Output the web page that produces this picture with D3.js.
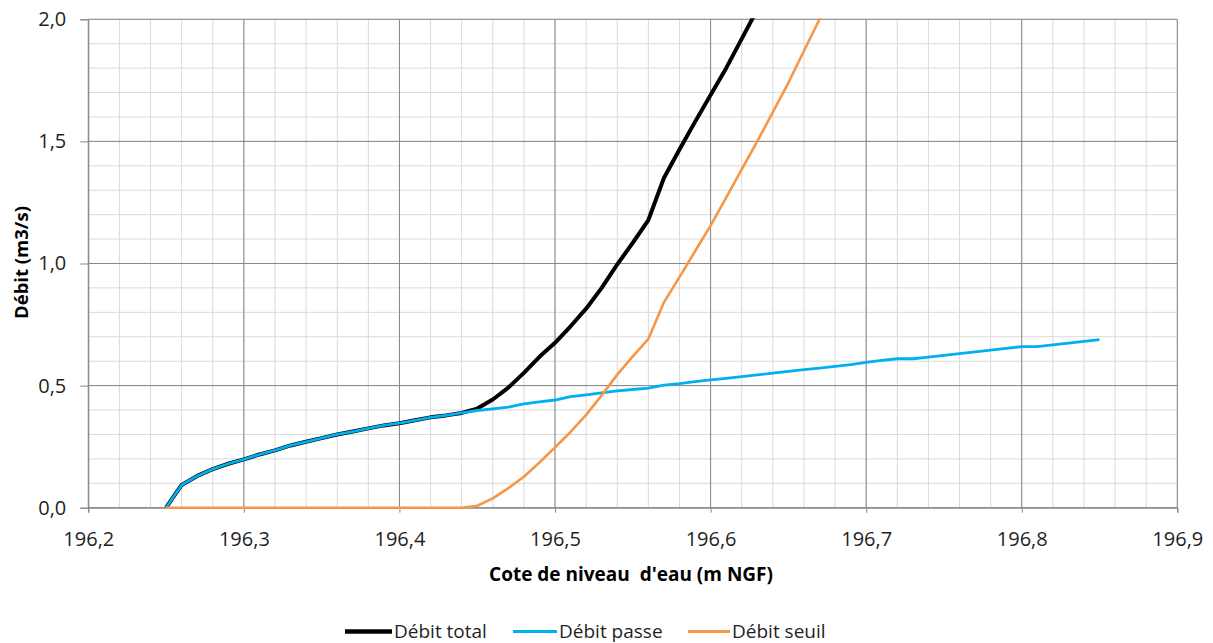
<!DOCTYPE html>
<html><head><meta charset="utf-8">
<script src="https://cdn.jsdelivr.net/npm/d3@7"></script>
<style>body{margin:0;background:#fff;} text{font-family:"Open Sans","Noto Sans",sans-serif;}</style>
</head><body><svg id="c" width="1213" height="643"></svg>
<script>
const cote = [196.25,196.26,196.27,196.28,196.29,196.30,196.31,196.32,196.33,196.34,196.35,196.36,196.37,196.38,196.39,196.40,196.41,196.42,196.43,196.44,196.45,196.46,196.47,196.48,196.49,196.50,196.51,196.52,196.53,196.54,196.55,196.56,196.57,196.58,196.59,196.60,196.61,196.62,196.63,196.64,196.65,196.66,196.67,196.68,196.69,196.70,196.71,196.72,196.73,196.74,196.75,196.76,196.77,196.78,196.79,196.80,196.81,196.82,196.83,196.84,196.85];
const debitPasse = [0,0.093,0.13,0.158,0.18,0.198,0.218,0.235,0.255,0.27,0.285,0.30,0.312,0.325,0.337,0.346,0.358,0.37,0.378,0.388,0.398,0.405,0.412,0.425,0.433,0.441,0.455,0.462,0.47,0.478,0.484,0.49,0.502,0.508,0.516,0.523,0.53,0.537,0.544,0.551,0.558,0.565,0.572,0.579,0.586,0.595,0.603,0.61,0.61,0.617,0.624,0.631,0.638,0.645,0.652,0.66,0.66,0.667,0.674,0.681,0.688];
const debitSeuil = [0,0,0,0,0,0,0,0,0,0,0,0,0,0,0,0,0,0,0,0,0.008,0.038,0.08,0.127,0.185,0.247,0.31,0.38,0.46,0.545,0.62,0.691,0.841,0.944,1.05,1.155,1.27,1.385,1.50,1.62,1.74,1.87,2.00,2.13];
const debitTotal = [0,0.093,0.13,0.158,0.18,0.198,0.218,0.235,0.255,0.27,0.285,0.30,0.312,0.325,0.337,0.346,0.358,0.37,0.378,0.388,0.406,0.443,0.492,0.552,0.618,0.675,0.743,0.815,0.90,0.996,1.085,1.178,1.35,1.467,1.58,1.69,1.80,1.92,2.04,2.17];
const xTicks = [196.2,196.3,196.4,196.5,196.6,196.7,196.8,196.9];
const yTicks = [0,0.5,1.0,1.5,2.0];
const seriesNames = ["Débit total","Débit passe","Débit seuil"];
const seriesColors = ["#000000","#00B0F0","#F79646"];

const svg = d3.select("#c");
const L=88.3,R=1177.3,T=19.3,B=507.7;
const x = d3.scaleLinear().domain([196.2,196.9]).range([L,R]);
const y = d3.scaleLinear().domain([0,2]).range([B,T]);
const fmt = d => d3.format(".1f")(d).replace(".",",");

const g = svg.append("g");
const xMinor = d3.range(196.2,196.9001,0.02).map(v=>+v.toFixed(2));
const yMinor = d3.range(0,2.0001,0.1).map(v=>+v.toFixed(1));
g.selectAll(".xm").data(xMinor).enter().append("line")
 .attr("x1",d=>x(d)).attr("x2",d=>x(d)).attr("y1",T).attr("y2",B)
 .attr("stroke","#d9d9d9").attr("stroke-width",1);
g.selectAll(".ym").data(yMinor).enter().append("line")
 .attr("x1",L).attr("x2",R).attr("y1",d=>y(d)).attr("y2",d=>y(d))
 .attr("stroke","#d9d9d9").attr("stroke-width",1);
g.selectAll(".xM").data(xTicks).enter().append("line")
 .attr("x1",d=>x(d)).attr("x2",d=>x(d)).attr("y1",T).attr("y2",B)
 .attr("stroke","#878787").attr("stroke-width",1);
g.selectAll(".yM").data(yTicks).enter().append("line")
 .attr("x1",L).attr("x2",R).attr("y1",d=>y(d)).attr("y2",d=>y(d))
 .attr("stroke","#878787").attr("stroke-width",1);

const xAxis = svg.append("g").attr("transform",`translate(0,${B})`)
 .call(d3.axisBottom(x).tickValues(xTicks).tickFormat(fmt).tickSize(5).tickPadding(19));
const yAxis = svg.append("g").attr("transform",`translate(${L},0)`)
 .call(d3.axisLeft(y).tickValues(yTicks).tickFormat(fmt).tickSize(8).tickPadding(14));
[xAxis,yAxis].forEach(a=>{
  a.select(".domain").attr("stroke","#878787");
  a.selectAll(".tick line").attr("stroke","#878787");
  a.selectAll("text").attr("fill","#1f1f1f").style("font-size","20px").style("font-family","'Open Sans',sans-serif");
});

svg.append("clipPath").attr("id","clip").append("rect").attr("x",L).attr("y",T-1).attr("width",R-L).attr("height",B-T+3);
const line = d3.line().x(d=>x(d[0])).y(d=>y(d[1]));
const lines = svg.append("g").attr("clip-path","url(#clip)");
const mk = arr => arr.map((v,i)=>[cote[i],v]);
lines.append("path").datum(mk(debitTotal)).attr("d",line).attr("fill","none").attr("stroke",seriesColors[0]).attr("stroke-width",4).attr("stroke-linejoin","round");
lines.append("path").datum(mk(debitPasse)).attr("d",line).attr("fill","none").attr("stroke",seriesColors[1]).attr("stroke-width",2.8).attr("stroke-linejoin","round");
lines.append("path").datum(mk(debitSeuil)).attr("d",line).attr("fill","none").attr("stroke",seriesColors[2]).attr("stroke-width",2.6).attr("stroke-linejoin","round");

svg.append("text").attr("x",631).attr("y",581).attr("text-anchor","middle")
 .style("font-size","19px").style("font-weight","bold").attr("fill","#000")
 .attr("xml:space","preserve").style("white-space","pre").text("Cote de niveau  d'eau (m NGF)");
svg.append("text").attr("transform","translate(28,262.5) rotate(-90)").attr("text-anchor","middle")
 .style("font-size","18.5px").style("font-weight","bold").attr("fill","#000").text("Débit (m3/s)");

const legX = [345,513,688];
const legW = [47,44,42];
const legSW = [4.5,3,3];
seriesNames.forEach((n,i)=>{
  svg.append("line").attr("x1",legX[i]).attr("x2",legX[i]+legW[i]).attr("y1",631.5).attr("y2",631.5)
   .attr("stroke",seriesColors[i]).attr("stroke-width",legSW[i]);
  svg.append("text").attr("x",legX[i]+legW[i]+2).attr("y",637.5).style("font-size","19px").attr("fill","#1f1f1f").text(n);
});
</script></body></html>
